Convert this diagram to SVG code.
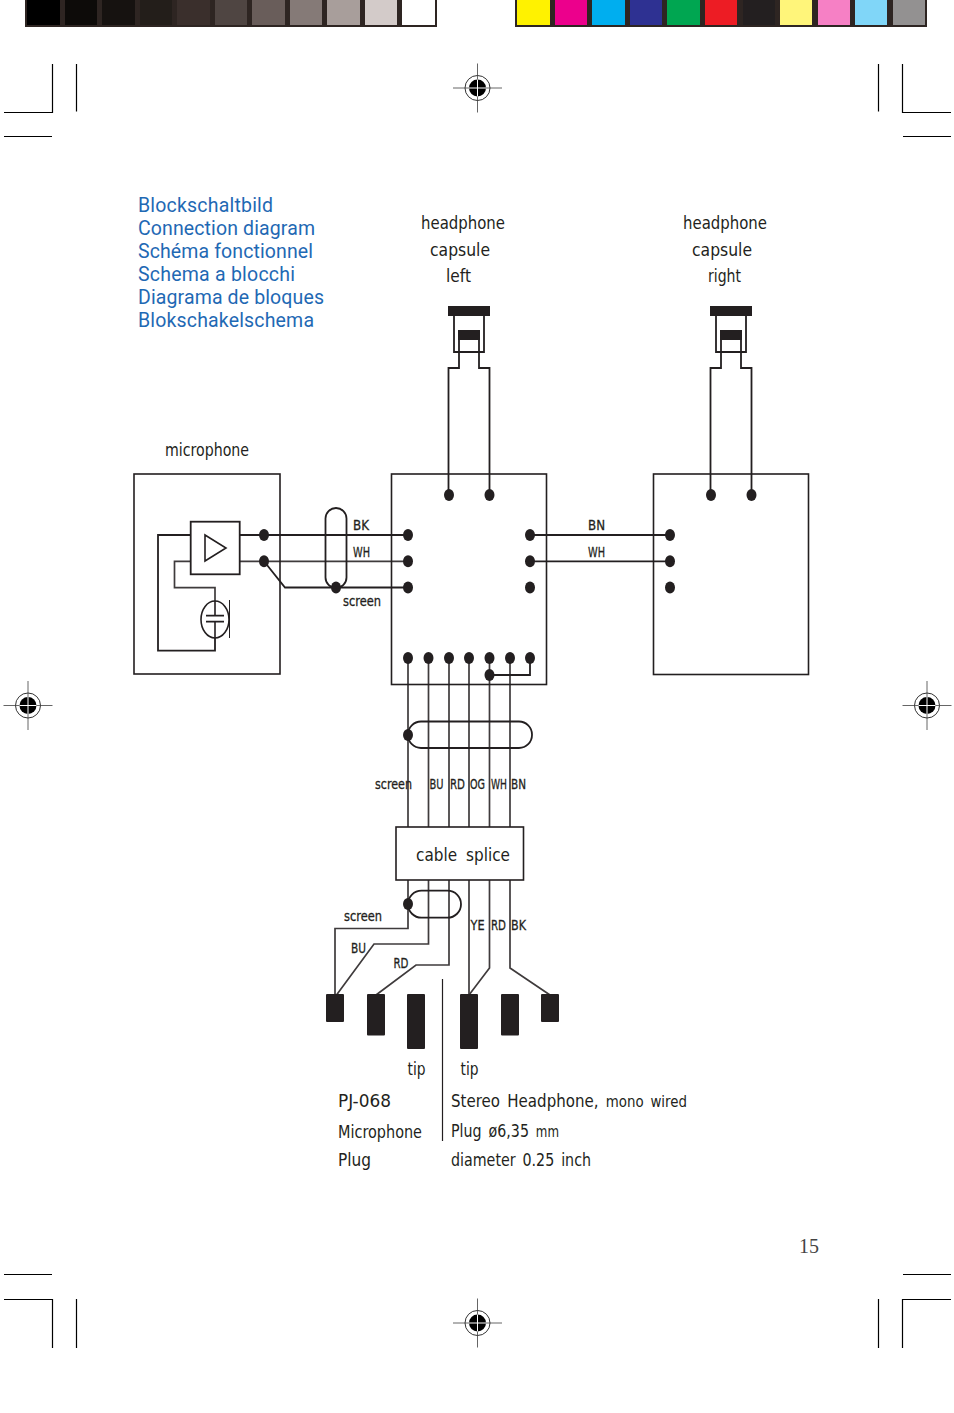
<svg xmlns="http://www.w3.org/2000/svg" width="954" height="1413" viewBox="0 0 954 1413">
<style>
.b{fill:none;stroke:#231f20;stroke-width:1.6}
.w{fill:none;stroke:#231f20;stroke-width:1.8}
.g{fill:none;stroke:#3f3b3c;stroke-width:1.7}
.c{fill:none;stroke:#000;stroke-width:1.2}
.k{fill:#231f20;stroke:none}
.t{font-family:"DejaVu Sans",sans-serif;fill:#231f20;font-size:18px;word-spacing:3px}
.s{font-family:"DejaVu Sans",sans-serif;fill:#231f20;font-size:14px;stroke:#231f20;stroke-width:.3}
.l{font-family:"Roboto",sans-serif;fill:#1f69b4;font-size:19.5px}
</style>
<defs>
<ellipse id="d" rx="5" ry="6" class="k"/>
<g id="reg">
<path d="M-24.500 0H24.500M0-24.500V24.500" fill="none" stroke="#666" stroke-width="1"/>
<circle r="12.500" fill="none" stroke="#333" stroke-width="1"/>
<circle r="8.500" fill="#000"/>
<path d="M-8.500 0H8.500M0-8.500V8.500" fill="none" stroke="#fff" stroke-width="1"/>
</g>
<g id="capsule">
<rect x="448" y="306" width="42" height="10" class="k"/>
<path class="w" d="M454 316V352H484V316"/>
<rect x="458" y="330" width="22" height="10" class="k"/>
<path class="w" d="M459 340V368H448.500V495M479 340V368H489.500V495"/>
</g>
</defs>
<g id="colorbars">
<rect x="25" y="-2" width="412" height="29" fill="#2e2522"/>
<rect x="27" y="-2" width="33" height="27" fill="#000"/>
<rect x="65" y="-2" width="32" height="27" fill="#0d0b09"/>
<rect x="102" y="-2" width="33" height="27" fill="#161210"/>
<rect x="140" y="-2" width="32" height="27" fill="#231e1a"/>
<rect x="177" y="-2" width="33" height="27" fill="#3a2f2c"/>
<rect x="215" y="-2" width="32" height="27" fill="#4f4542"/>
<rect x="252" y="-2" width="33" height="27" fill="#695d5a"/>
<rect x="290" y="-2" width="32" height="27" fill="#857a77"/>
<rect x="327" y="-2" width="33" height="27" fill="#a89e9b"/>
<rect x="365" y="-2" width="32" height="27" fill="#d3cbc9"/>
<rect x="402" y="-2" width="33" height="27" fill="#fff"/>
<rect x="515" y="-2" width="412" height="29" fill="#2e2522"/>
<rect x="517" y="-2" width="33" height="27" fill="#fff200"/>
<rect x="555" y="-2" width="32" height="27" fill="#ec008c"/>
<rect x="592" y="-2" width="33" height="27" fill="#00aeef"/>
<rect x="630" y="-2" width="32" height="27" fill="#2e3192"/>
<rect x="667" y="-2" width="33" height="27" fill="#00a651"/>
<rect x="705" y="-2" width="32" height="27" fill="#ed1c24"/>
<rect x="743" y="-2" width="32" height="27" fill="#231f20"/>
<rect x="780" y="-2" width="32" height="27" fill="#fff57a"/>
<rect x="818" y="-2" width="32" height="27" fill="#f680c5"/>
<rect x="855" y="-2" width="32" height="27" fill="#80d6f8"/>
<rect x="893" y="-2" width="32" height="27" fill="#939191"/>
</g>
<g id="cropmarks">
<path class="c" d="M4 112.500H52.500V64M76.500 64V111.500M4 136.500H52"/>
<path class="c" d="M878.500 64V111.500M902.500 64V112.500H951M903 136.500H951"/>
<path class="c" d="M4 1274.500H52M4 1299.500H52.500V1348M76.500 1299V1348"/>
<path class="c" d="M903 1274.500H951M951 1299.500H902.500V1348M878.500 1299V1348"/>
</g>
<g id="registration">
<use href="#reg" x="477.500" y="88"/>
<use href="#reg" x="477.500" y="1323"/>
<use href="#reg" x="28" y="705.500"/>
<use href="#reg" x="927" y="705.500"/>
</g>
<g id="title">
<text class="l" x="138" y="212" textLength="135" lengthAdjust="spacing">Blockschaltbild</text>
<text class="l" x="138" y="235" textLength="177" lengthAdjust="spacing">Connection diagram</text>
<text class="l" x="138" y="258" textLength="175" lengthAdjust="spacing">Schéma fonctionnel</text>
<text class="l" x="138" y="281" textLength="157" lengthAdjust="spacing">Schema a blocchi</text>
<text class="l" x="138" y="304" textLength="186" lengthAdjust="spacing">Diagrama de bloques</text>
<text class="l" x="138" y="327" textLength="176" lengthAdjust="spacing">Blokschakelschema</text>
</g>
<g id="connectors">
<path class="w" d="M239.700 535H408"/>
<path class="g" d="M239.700 561.300H408"/>
<path class="w" d="M264 561.300L285 587.500H408"/>
<path class="w" d="M190.700 535H158V650.700H215V638"/>
<path class="g" d="M190.700 561.300H174.500V587.700H215V601"/>
<path class="w" d="M530 535H670"/>
<path class="w" d="M530 561.300H670"/>
<path class="g" d="M408 658V827M428.500 658V827M449 658V827M469 658V827M489.500 658V827M510 658V827"/>
<path class="w" d="M489.500 675H530V658"/>
<path class="g" d="M408 880V928.500H335V995"/>
<path class="g" d="M428.500 880V944H374L336.500 995"/>
<path class="g" d="M449 880V965H416L376 995"/>
<path class="g" d="M469 880V995"/>
<path class="g" d="M489.500 880V968L469 995"/>
<path class="g" d="M510 880V968L550 995"/>
<use href="#d" x="336" y="587.500"/>
<use href="#d" x="408" y="735"/>
<use href="#d" x="408" y="904"/>
<use href="#d" x="489.500" y="675"/>
</g>
<g id="screen-oval-mic"><rect x="325.500" y="508" width="21" height="80" rx="10.500" class="w"/></g>
<g id="screen-oval-cable"><rect x="408" y="721.500" width="124" height="26.500" rx="13" class="w"/></g>
<g id="screen-oval-plug"><rect x="408" y="890.700" width="53" height="27" rx="13.500" class="w"/></g>
<g id="microphone">
<rect x="134" y="474" width="146" height="200" class="b"/>
<rect x="190.700" y="521.700" width="49" height="52.600" class="w"/>
<path class="b" d="M205 535V561L226 548Z"/>
<ellipse cx="215" cy="619.500" rx="14" ry="18.500" class="b"/>
<path class="w" d="M206 615.700H224M206 621.700H224"/>
<path class="b" d="M215 601V615.700M215 621.700V638"/>
<path d="M229.500 600V638" fill="none" stroke="#231f20" stroke-width="1"/>
<use href="#d" x="264" y="535"/>
<use href="#d" x="264" y="561.300"/>
<text class="t" x="165" y="456" textLength="84" lengthAdjust="spacingAndGlyphs">microphone</text>
</g>
<g id="capsule-left">
<use href="#capsule"/>
<text class="t" x="421" y="229" textLength="84" lengthAdjust="spacingAndGlyphs">headphone</text>
<text class="t" x="430" y="256" textLength="60" lengthAdjust="spacingAndGlyphs">capsule</text>
<text class="t" x="446" y="282" textLength="25" lengthAdjust="spacingAndGlyphs">left</text>
</g>
<g id="capsule-right">
<use href="#capsule" x="262"/>
<text class="t" x="683" y="229" textLength="84" lengthAdjust="spacingAndGlyphs">headphone</text>
<text class="t" x="692" y="256" textLength="60" lengthAdjust="spacingAndGlyphs">capsule</text>
<text class="t" x="708" y="282" textLength="33" lengthAdjust="spacingAndGlyphs">right</text>
</g>
<g id="center-box">
<rect x="391.500" y="474" width="155" height="210.500" class="b"/>
<use href="#d" x="449" y="495"/><use href="#d" x="489.500" y="495"/>
<use href="#d" x="408" y="535"/><use href="#d" x="408" y="561.300"/><use href="#d" x="408" y="587.500"/>
<use href="#d" x="530" y="535"/><use href="#d" x="530" y="561.300"/><use href="#d" x="530" y="587.500"/>
<use href="#d" x="408" y="658"/><use href="#d" x="428.500" y="658"/><use href="#d" x="449" y="658"/><use href="#d" x="469" y="658"/><use href="#d" x="489.500" y="658"/><use href="#d" x="510" y="658"/><use href="#d" x="530" y="658"/>
</g>
<g id="right-box">
<rect x="653.500" y="474" width="155" height="200.500" class="b"/>
<use href="#d" x="711" y="495"/><use href="#d" x="751.500" y="495"/>
<use href="#d" x="670" y="535"/><use href="#d" x="670" y="561.300"/><use href="#d" x="670" y="587.500"/>
</g>
<g id="cable-splice">
<rect x="396" y="827" width="127.500" height="53" class="b"/>
<text class="t" x="416" y="861" textLength="94" lengthAdjust="spacingAndGlyphs" style="word-spacing:5px">cable splice</text>
</g>
<g id="plug-mic">
<rect x="326" y="994" width="18" height="28" rx="1" class="k"/>
<rect x="367" y="994" width="18" height="41.500" rx="1" class="k"/>
<rect x="407" y="994" width="18" height="55" rx="1" class="k"/>
</g>
<g id="plug-headphone">
<rect x="460" y="994" width="18" height="55" rx="1" class="k"/>
<rect x="501" y="994" width="18" height="41.500" rx="1" class="k"/>
<rect x="541" y="994" width="18" height="28" rx="1" class="k"/>
</g>
<path id="divider" d="M442.500 979V1141" fill="none" stroke="#231f20" stroke-width="1.200"/>
<g id="wire-labels">
<text class="s" x="353" y="530" textLength="16" lengthAdjust="spacingAndGlyphs">BK</text>
<text class="s" x="353" y="557" textLength="17" lengthAdjust="spacingAndGlyphs">WH</text>
<text class="s" x="343" y="606" textLength="38" lengthAdjust="spacingAndGlyphs">screen</text>
<text class="s" x="588" y="530" textLength="17" lengthAdjust="spacingAndGlyphs">BN</text>
<text class="s" x="588" y="557" textLength="17" lengthAdjust="spacingAndGlyphs">WH</text>
<text class="s" x="375" y="789" textLength="37" lengthAdjust="spacingAndGlyphs">screen</text>
<text class="s" x="429.500" y="789" textLength="14" lengthAdjust="spacingAndGlyphs">BU</text>
<text class="s" x="450" y="789" textLength="15" lengthAdjust="spacingAndGlyphs">RD</text>
<text class="s" x="470" y="789" textLength="15" lengthAdjust="spacingAndGlyphs">OG</text>
<text class="s" x="491" y="789" textLength="16" lengthAdjust="spacingAndGlyphs">WH</text>
<text class="s" x="511" y="789" textLength="15" lengthAdjust="spacingAndGlyphs">BN</text>
<text class="s" x="344" y="921" textLength="38" lengthAdjust="spacingAndGlyphs">screen</text>
<text class="s" x="351" y="953" textLength="15" lengthAdjust="spacingAndGlyphs">BU</text>
<text class="s" x="393.500" y="968" textLength="15" lengthAdjust="spacingAndGlyphs">RD</text>
<text class="s" x="470.500" y="930" textLength="14" lengthAdjust="spacingAndGlyphs">YE</text>
<text class="s" x="491" y="930" textLength="15" lengthAdjust="spacingAndGlyphs">RD</text>
<text class="s" x="511" y="930" textLength="15" lengthAdjust="spacingAndGlyphs">BK</text>
</g>
<g id="plug-labels">
<text class="t" x="407.500" y="1075" textLength="18" lengthAdjust="spacingAndGlyphs">tip</text>
<text class="t" x="460.500" y="1075" textLength="18" lengthAdjust="spacingAndGlyphs">tip</text>
<text class="t" x="338" y="1107" textLength="53" lengthAdjust="spacingAndGlyphs">PJ-068</text>
<text class="t" x="338" y="1138" textLength="84" lengthAdjust="spacingAndGlyphs">Microphone</text>
<text class="t" x="338" y="1166" textLength="33" lengthAdjust="spacingAndGlyphs">Plug</text>
<text class="t" x="451" y="1107" textLength="236" lengthAdjust="spacingAndGlyphs">Stereo Headphone, <tspan font-size="16">mono wired</tspan></text>
<text class="t" x="451" y="1137" textLength="108" lengthAdjust="spacingAndGlyphs">Plug ø6,35 <tspan font-size="15">mm</tspan></text>
<text class="t" x="451" y="1166" textLength="140" lengthAdjust="spacingAndGlyphs">diameter 0.25 inch</text>
</g>
<text id="page-number" x="799" y="1253" font-family="'Liberation Serif',serif" font-size="20" fill="#444">15</text>
</svg>
